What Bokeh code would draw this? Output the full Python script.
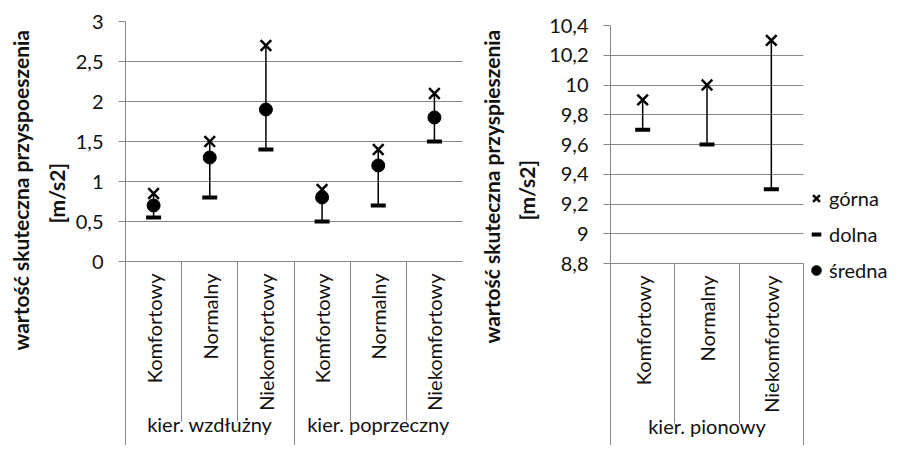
import math
from bokeh.plotting import figure
from bokeh.layouts import row
from bokeh.models import (Range1d, LinearAxis, FixedTicker, Legend, LegendItem,
                          ColumnDataSource, Title)
from bokeh.embed import file_html
from bokeh.resources import INLINE

# ---------------- data ----------------
left_groups = ["kier. wzdłużny", "kier. poprzeczny"]
left_categories = ["Komfortowy", "Normalny", "Niekomfortowy",
                   "Komfortowy", "Normalny", "Niekomfortowy"]
left_gorna = [0.85, 1.5, 2.7, 0.9, 1.4, 2.1]
left_dolna = [0.55, 0.8, 1.4, 0.5, 0.7, 1.5]
left_srednia = [0.7, 1.3, 1.9, 0.8, 1.2, 1.8]

right_groups = ["kier. pionowy"]
right_categories = ["Komfortowy", "Normalny", "Niekomfortowy"]
right_gorna = [9.9, 10.0, 10.3]
right_dolna = [9.7, 9.6, 9.3]

left_ticks = [0, 0.5, 1, 1.5, 2, 2.5, 3]
left_tick_labels = ["0", "0,5", "1", "1,5", "2", "2,5", "3"]
right_ticks = [8.8, 9.0, 9.2, 9.4, 9.6, 9.8, 10.0, 10.2, 10.4]
right_tick_labels = ["8,8", "9", "9,2", "9,4", "9,6", "9,8", "10", "10,2", "10,4"]

left_ylabel = ["wartość skuteczna przyspoeszenia", "[m/s2]"]
right_ylabel = ["wartość skuteczna przyspieszenia", "[m/s2]"]
legend_labels = ["górna", "dolna", "średna"]

# ---------------- style ----------------
FONT = "Lato"
GRID = "#868686"
TXT = "#111111"
SEP_IN = 160      # inner separator length below the axis
SEP_GRP = 70      # group separator length below the group-label axis
H = 445


def make_fig(width, border_left, border_right, border_top, border_bottom,
             groups, categories, yticks, ylabels, ylabel, title_offsets,
             title_standoffs, close_right):
    n = len(categories)
    per = n // len(groups)
    xs = [i + 0.5 for i in range(n)]
    bounds = list(range(n + 1)) if close_right else list(range(n))
    gcenters = [g * per + per / 2 for g in range(len(groups))]
    gbounds = [g * per for g in range(len(groups) + (1 if close_right else 0))]

    p = figure(width=width, height=H, x_axis_type=None,
               x_range=Range1d(0, n), y_range=Range1d(yticks[0], yticks[-1]),
               output_backend="svg", toolbar_location=None)
    p.frame_align = False
    p.min_border_left = border_left
    p.min_border_right = border_right
    p.min_border_top = border_top
    p.min_border_bottom = border_bottom
    p.outline_line_color = None
    p.background_fill_color = "white"
    p.border_fill_color = "white"

    ax = p.yaxis[0]
    ax.ticker = FixedTicker(ticks=yticks)
    ax.major_label_overrides = {t: l for t, l in zip(yticks, ylabels)}
    ax.minor_tick_line_color = None
    ax.major_tick_in = 0
    ax.major_tick_out = 7
    ax.major_tick_line_color = GRID
    ax.axis_line_color = GRID
    ax.major_label_standoff = 15
    ax.major_label_text_font = FONT
    ax.major_label_text_font_size = "20px"
    ax.major_label_text_color = TXT

    # two-line y label, as two left-side titles (inner line first)
    for text, off, so in [(ylabel[1], title_offsets[1], title_standoffs[1]),
                          (ylabel[0], title_offsets[0], title_standoffs[0])]:
        t = Title(text=text, align="left", offset=off, standoff=so,
                  text_font=FONT, text_font_style="bold", text_font_size="21px",
                  text_color=TXT)
        p.add_layout(t, "left")

    g = p.ygrid[0]
    g.ticker = FixedTicker(ticks=yticks)
    g.grid_line_color = GRID

    cat_ax = LinearAxis(
        ticker=FixedTicker(ticks=xs, minor_ticks=bounds),
        major_label_overrides={x: c for x, c in zip(xs, categories)},
        major_label_orientation=math.pi / 2,
        major_tick_in=0, major_tick_out=0, major_tick_line_color=None,
        minor_tick_in=0, minor_tick_out=SEP_IN, minor_tick_line_color=GRID,
        axis_line_color=GRID, major_label_standoff=12 - SEP_IN,
        major_label_text_font=FONT, major_label_text_font_size="20px",
        major_label_text_color=TXT)
    p.add_layout(cat_ax, "below")

    grp_ax = LinearAxis(
        ticker=FixedTicker(ticks=gcenters, minor_ticks=gbounds),
        major_label_overrides={x: gname for x, gname in zip(gcenters, groups)},
        major_tick_in=0, major_tick_out=0, major_tick_line_color=None,
        minor_tick_in=0, minor_tick_out=SEP_GRP, minor_tick_line_color=GRID,
        axis_line_color=None, major_label_standoff=-2 - SEP_GRP,
        major_label_text_font=FONT, major_label_text_font_size="20px",
        major_label_text_color=TXT)
    p.add_layout(grp_ax, "below")
    return p, xs


# ---------------- left chart ----------------
p1, xs1 = make_fig(470, 120, 8, 21, 184, left_groups, left_categories,
                   left_ticks, left_tick_labels, left_ylabel,
                   (-89, 38), (10, 8), False)
src1 = ColumnDataSource(dict(x=xs1, gorna=left_gorna, dolna=left_dolna, srednia=left_srednia))
p1.segment(x0="x", y0="dolna", x1="x", y1="gorna", source=src1,
           line_color="black", line_width=1.5)
p1.scatter("x", "gorna", marker="x", size=15, line_width=2.5, line_color="black", source=src1)
p1.scatter("x", "dolna", marker="dash", size=15, line_width=4, line_color="black", source=src1)
p1.scatter("x", "srednia", marker="circle", size=13, fill_color="black",
           line_color="black", source=src1)

# ---------------- right chart ----------------
p2, xs2 = make_fig(334, 140, 1, 25, 182, right_groups, right_categories,
                   right_ticks, right_tick_labels, right_ylabel,
                   (-80, 43), (0, 16), True)
src2 = ColumnDataSource(dict(x=xs2, gorna=right_gorna, dolna=right_dolna))
p2.segment(x0="x", y0="dolna", x1="x", y1="gorna", source=src2,
           line_color="black", line_width=1.5)
p2.scatter("x", "gorna", marker="x", size=15, line_width=2.5, line_color="black", source=src2)
p2.scatter("x", "dolna", marker="dash", size=15, line_width=4, line_color="black", source=src2)

# ---------------- legend (own small canvas) ----------------
pl = figure(width=84, height=H, x_range=Range1d(0, 1), y_range=Range1d(0, 1),
            x_axis_type=None, y_axis_type=None, output_backend="svg",
            toolbar_location=None)
pl.frame_align = False
pl.min_border_left = 0
pl.min_border_right = 0
pl.min_border_top = 184
pl.min_border_bottom = 150
pl.outline_line_color = None
pl.grid.visible = False
lg = pl.scatter("x", "gorna", marker="x", size=15, line_width=2.5, line_color="black",
                source=src1, visible=False)
ld = pl.scatter("x", "dolna", marker="dash", size=15, line_width=4, line_color="black",
                source=src1, visible=False)
ls = pl.scatter("x", "srednia", marker="circle", size=13, fill_color="black",
                line_color="black", source=src1, visible=False)
legend = Legend(
    items=[LegendItem(label=legend_labels[0], renderers=[lg]),
           LegendItem(label=legend_labels[1], renderers=[ld]),
           LegendItem(label=legend_labels[2], renderers=[ls])],
    location="top_left", glyph_width=24, glyph_height=28, label_standoff=1,
    spacing=8, padding=0, margin=0, border_line_color=None, background_fill_alpha=0,
    label_text_font=FONT, label_text_font_size="20px", label_text_color=TXT)
pl.add_layout(legend)

layout = row(p1, p2, pl)
open("out.html", "w").write(file_html(layout, INLINE))
